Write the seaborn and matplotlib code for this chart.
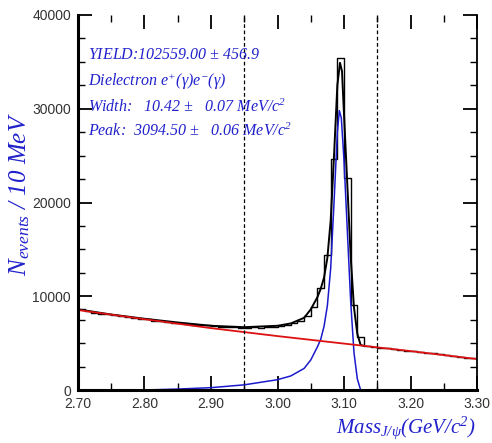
import numpy as np
import pandas as pd
import matplotlib
matplotlib.use("Agg")
import matplotlib.pyplot as plt
from matplotlib.ticker import MultipleLocator, FormatStrFormatter
import seaborn as sns

# ---- data ----
# histogram, 10 MeV bins starting at 2.70 GeV
hist_left_edges = [2.70, 2.71, 2.72, 2.73, 2.74, 2.75, 2.76, 2.77, 2.78, 2.79,
                   2.80, 2.81, 2.82, 2.83, 2.84, 2.85, 2.86, 2.87, 2.88, 2.89,
                   2.90, 2.91, 2.92, 2.93, 2.94, 2.95, 2.96, 2.97, 2.98, 2.99,
                   3.00, 3.01, 3.02, 3.03, 3.04, 3.05, 3.06, 3.07, 3.08, 3.09,
                   3.10, 3.11, 3.12, 3.13, 3.14, 3.15, 3.16, 3.17, 3.18, 3.19,
                   3.20, 3.21, 3.22, 3.23, 3.24, 3.25, 3.26, 3.27, 3.28, 3.29]
hist_counts = [8600, 8400, 8250, 8150, 8100, 7950, 7850, 7800, 7650, 7600,
               7550, 7400, 7350, 7250, 7200, 7150, 7050, 6950, 6900, 6900,
               6800, 6750, 6700, 6700, 6650, 6650, 6700, 6650, 6700, 6750,
               6850, 6950, 7100, 7400, 7900, 8900, 10900, 14400, 24600, 35400,
               22600, 9100, 5700, 4650, 4600, 4500, 4450, 4350, 4300, 4200,
               4150, 4050, 3950, 3900, 3800, 3700, 3650, 3550, 3450, 3400]

# total fit (black)
total_mass = [2.70, 2.75, 2.80, 2.85, 2.90, 2.95, 3.00, 3.02, 3.04, 3.05, 3.06,
              3.065, 3.07, 3.075, 3.08, 3.085, 3.09, 3.094, 3.097, 3.10, 3.105,
              3.11, 3.115, 3.12, 3.125, 3.13]
total_fit = [8600, 8050, 7600, 7200, 6850, 6700, 6850, 7100, 7700, 8600, 9900,
             10800, 12000, 14100, 18100, 25000, 32500, 34900, 34000, 29400, 21900,
             14300, 8800, 6000, 4800, 4700]

# signal (blue)
sig_mass = [2.70, 2.75, 2.80, 2.85, 2.90, 2.95, 3.00, 3.02, 3.04, 3.05, 3.06,
            3.065, 3.07, 3.075, 3.08, 3.085, 3.09, 3.093, 3.096, 3.10, 3.105,
            3.11, 3.115, 3.12, 3.125]
sig_fit = [0, 0, 0, 100, 250, 550, 1100, 1500, 2300, 3200, 4600,
           5400, 6800, 9000, 13000, 20000, 27500, 29800, 29000, 24500, 17000,
           9500, 4000, 1200, 0]

# background (red)
bkg_mass = [2.70, 2.80, 2.90, 3.00, 3.10, 3.20, 3.30]
bkg_fit = [8530, 7550, 6600, 5750, 4950, 4150, 3300]

window_lines = [2.95, 3.15]
x_ticks = [2.70, 2.80, 2.90, 3.00, 3.10, 3.20, 3.30]
y_ticks = [0, 10000, 20000, 30000, 40000]

text_lines = [r"YIELD:102559.00$\,\pm\,$456.9",
              r"Dielectron e$^{+}$($\gamma$)e$^{-}$($\gamma$)",
              r"Width:   10.42$\,\pm\,$  0.07 MeV/c$^{2}$",
              r"Peak:  3094.50$\,\pm\,$  0.06 MeV/c$^{2}$"]

# ---- plotting ----
sns.set_theme(style="ticks")
plt.rcParams["font.family"] = ["Liberation Sans", "DejaVu Sans"]
plt.rcParams["mathtext.fontset"] = "custom"
plt.rcParams["mathtext.rm"] = "Liberation Serif:italic"
plt.rcParams["mathtext.it"] = "Liberation Serif:italic"
plt.rcParams["mathtext.cal"] = "Liberation Serif:italic"

fig = plt.figure(figsize=(4.92, 4.43), dpi=100)
ax = fig.add_axes([78/492, 1-390/443, (477-78)/492, (390-15)/443])

blue = "#2222cc"
edges = hist_left_edges + [round(hist_left_edges[-1] + 0.01, 2)]
centers = [e + 0.005 for e in hist_left_edges]
hdf = pd.DataFrame({"m": centers, "w": hist_counts})
sns.histplot(data=hdf, x="m", weights="w", bins=edges, element="step",
             fill=False, color="black", linewidth=1.0, ax=ax)

sns.lineplot(x=total_mass, y=total_fit, color="black", linewidth=1.4,
             sort=False, estimator=None, ax=ax)
sns.lineplot(x=sig_mass, y=sig_fit, color="#1a1acc", linewidth=1.1,
             sort=False, estimator=None, ax=ax)
sns.lineplot(x=bkg_mass, y=bkg_fit, color="#dd1111", linewidth=1.3,
             sort=False, estimator=None, ax=ax)

for xv in window_lines:
    ax.axvline(xv, color="black", linestyle=(0, (3, 2)), linewidth=0.9)

ax.set_xlim(2.70, 3.30)
ax.set_ylim(0, 40000)
ax.set_xticks(x_ticks)
ax.set_yticks(y_ticks)
ax.xaxis.set_major_formatter(FormatStrFormatter("%.2f"))
ax.xaxis.set_minor_locator(MultipleLocator(0.05))
ax.yaxis.set_minor_locator(MultipleLocator(2500))
ax.tick_params(which="both", direction="in", top=True, right=True,
               labeltop=False, labelright=False, colors="black",
               labelcolor="#333333", labelsize=10)
ax.tick_params(which="major", length=10, width=1.3)
ax.tick_params(which="minor", length=5, width=1.0)
ax.tick_params(axis="x", pad=5)
ax.tick_params(axis="y", pad=5)

ax.spines["top"].set_visible(False)
ax.spines["left"].set_linewidth(2.2)
ax.spines["bottom"].set_linewidth(2.2)
ax.spines["right"].set_linewidth(1.3)
for s in ax.spines.values():
    s.set_color("black")

ax.set_xlabel("")
ax.set_ylabel("")
fig.text(476/492, 1 - 428/443, r"Mass$_{J/\psi}$(GeV/c$^{2}$)", color=blue,
         fontsize=15, family="Liberation Serif", style="italic",
         ha="right", va="center")
fig.text(20/492, 1 - 194/443, r"N$_{events}$ / 10 MeV", color=blue,
         fontsize=18, family="Liberation Serif", style="italic",
         rotation=90, ha="center", va="center")

ys = [55, 82, 107, 131]
for t, yp in zip(text_lines, ys):
    fig.text(88/492, 1 - yp/443, t, color=blue, fontsize=11.5,
             family="Liberation Serif", style="italic", va="center", ha="left")

fig.savefig("out.png", dpi=100)
